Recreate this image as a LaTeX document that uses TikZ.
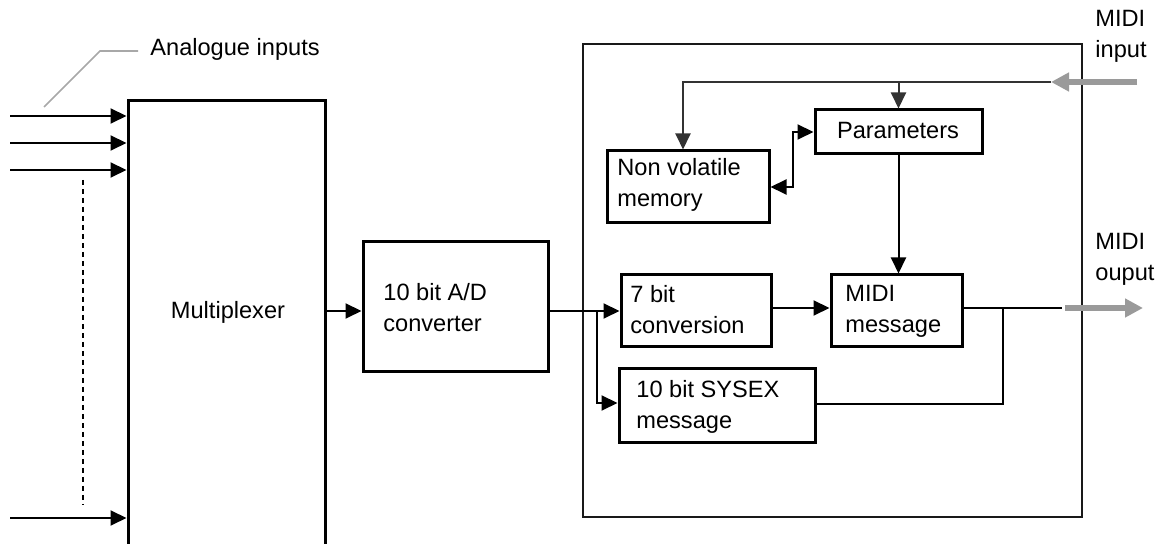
\documentclass[tikz,border=0pt]{standalone}
\usepackage{fontspec}
\setmainfont{Liberation Sans}
\usetikzlibrary{arrows.meta,fit}
\definecolor{gArrow}{HTML}{9A9A9A}
\definecolor{gLine}{HTML}{A8A8A8}
\tikzset{
  box/.style={draw, line width=1.5pt, inner sep=0pt},
  bigbox/.style={draw=black!90, line width=1.2pt, inner sep=0pt},
  txt/.style={inner sep=0pt, anchor=west, align=left},
  conn/.style={line width=1pt},
  arr/.style={conn, -{Triangle[length=8pt,width=7.5pt]}},
  darr/.style={conn, {Triangle[length=8pt,width=7.5pt]}-{Triangle[length=8pt,width=7.5pt]}},
  garr/.style={gArrow, line width=2.6pt, -{Triangle[length=9pt,width=9pt]}},
  dotline/.style={line width=1.2pt, dash pattern=on 2.5pt off 2pt},
}
\begin{document}
\begin{tikzpicture}[x=0.5pt, y=-0.5pt, font=\fontsize{11.8pt}{15.5pt}\selectfont]
\useasboundingbox (0,0) rectangle (1168,544);
\begin{scope}
\clip (0,0) rectangle (1168,544);
% blocks
\node[box, fit={(128,101) (325,560)}] (mux) {};
\node[txt, anchor=center] (muxt) at (228,312) {Multiplexer};
\node[box, fit={(363,242) (548,372)}] (ad) {};
\node[txt] (adt) at (383,308) {10 bit A/D\\converter};
\node[bigbox, fit={(583,44) (1082,517)}] (proc) {};
\node[box, fit={(815,110) (982,154)}] (par) {};
\node[txt, anchor=center] (part) at (898,131) {Parameters};
\node[box, fit={(607,151) (769,223)}] (mem) {};
\node[txt] (memt) at (617,185) {Non volatile\\memory};
\node[box, fit={(621,275) (771,347)}] (conv) {};
\node[txt] (convt) at (630,310) {7 bit\\conversion};
\node[box, fit={(831,275) (962,347)}] (msg) {};
\node[txt] (msgt) at (845,311) {MIDI\\message};
\node[box, fit={(619,369) (815,443)}] (sys) {};
\node[txt] (syst) at (636,407) {10 bit SYSEX\\message};
% labels
\node[txt] (ain) at (150,49) {Analogue inputs};
\node[txt] (midiin) at (1095,36) {MIDI\\input};
\node[txt] (midiout) at (1095,259) {MIDI\\ouput};
% analogue inputs
\coordinate (i1) at (10,116);
\coordinate (i2) at (10,143);
\coordinate (i3) at (10,170);
\coordinate (i4) at (10,518);
\foreach \c in {i1,i2,i3,i4} \draw[arr] (\c) -- (\c -| mux.west);
\coordinate (d1) at (83,180);
\coordinate (d2) at (83,505);
\draw[dotline] (d1) -- (d2);
\coordinate (a1) at (44,107);
\coordinate (a2) at (100,51);
\coordinate (a3) at (138,51);
\draw[gLine, line width=0.8pt] (a1) -- (a2) -- (a3);
% signal chain
\coordinate (sy) at (0,311);
\draw[arr] (mux.east |- sy) -- (ad.west |- sy);
\draw[arr] (ad.east |- sy) -- (conv.west |- sy);
\coordinate (br) at (597,311);
\draw[arr] (br) |- (sys.west |- 0,403);
\draw[arr] (conv.east |- 0,308) -- (msg.west |- 0,308);
\coordinate (oj) at (1003,308);
\coordinate (oe) at (1062,308);
\draw[conn] (msg.east |- oj) -- (oe);
\draw[conn, line width=0.8pt] (sys.east |- 0,404) -| (oj);
\coordinate (os) at (1065,308);
\coordinate (ot) at (1143,308);
\draw[garr] (os) -- (ot);
% MIDI input
\coordinate (ms) at (1137,82);
\coordinate (mt) at (1051,82);
\draw[garr] (ms) -- (mt);
\coordinate (tl) at (683,82);
\draw[arr, black!80] (mt) -- (tl) -- (tl |- mem.north);
\draw[arr, black!80] (par.north |- tl) -- (par.north);
\draw[arr] (par.south) -- (par.south |- msg.north);
\draw[darr] (mem.east) -- ++(22,0) |- (par.west);
\end{scope}
\end{tikzpicture}
\end{document}
